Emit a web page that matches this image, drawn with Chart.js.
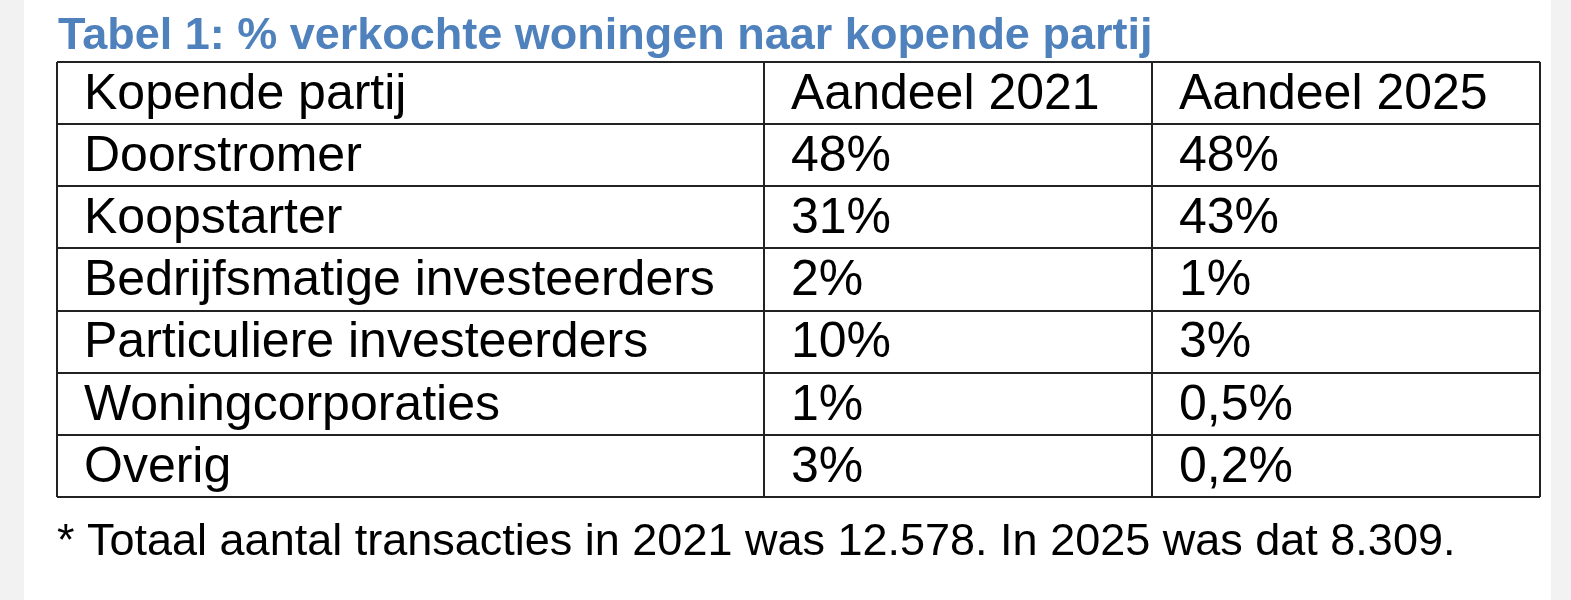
<!DOCTYPE html>
<html><head><meta charset="utf-8">
<script src="https://cdn.jsdelivr.net/npm/chart.js@4"></script>
<style>html,body{margin:0;padding:0;background:#f2f2f2;}
#wrap{position:absolute;left:0;top:0;width:1571px;height:600px;}
</style></head><body>
<div id="wrap"><canvas id="c" width="1571" height="600"></canvas></div>
<script>
const title = "Tabel 1: % verkochte woningen naar kopende partij";
const headers = ["Kopende partij", "Aandeel 2021", "Aandeel 2025"];
const categories = ["Doorstromer","Koopstarter","Bedrijfsmatige investeerders","Particuliere investeerders","Woningcorporaties","Overig"];
const share2021 = ["48%","31%","2%","10%","1%","3%"];
const share2025 = ["48%","43%","1%","3%","0,5%","0,2%"];
const footnote = "* Totaal aantal transacties in 2021 was 12.578. In 2025 was dat 8.309.";
const colEdges = [0, 707, 1095, 1483];

const tablePlugin = {
  id:'table',
  beforeDraw(chart){
    const ctx = chart.ctx, xs = chart.scales.x, ys = chart.scales.y;
    ctx.save();
    ctx.fillStyle='#f2f2f2'; ctx.fillRect(0,0,chart.width,chart.height);
    ctx.fillStyle='#ffffff'; ctx.fillRect(24,0,1527,chart.height);
    ctx.fillStyle='#4f81bd'; ctx.font='bold 45px "Liberation Sans", Arial';
    ctx.textBaseline='alphabetic';
    ctx.fillText(title, 58, 49);
    const rows=[headers, ...categories.map((c,i)=>[c,share2021[i],share2025[i]])];
    ctx.fillStyle='#000'; ctx.font='50px "Liberation Sans", Arial'; ctx.textBaseline='middle';
    rows.forEach((r,i)=>{
      const y=(ys.getPixelForValue(i)+ys.getPixelForValue(i+1))/2+2;
      r.forEach((t,j)=>ctx.fillText(t, xs.getPixelForValue(colEdges[j])+27, y));
    });
    ctx.strokeStyle='#222'; ctx.lineWidth=2;
    for(let i=0;i<=rows.length;i++){const y=Math.round(ys.getPixelForValue(i));
      ctx.beginPath();ctx.moveTo(xs.getPixelForValue(0),y);ctx.lineTo(xs.getPixelForValue(1483),y);ctx.stroke();}
    colEdges.forEach(v=>{const x=Math.round(xs.getPixelForValue(v));
      ctx.beginPath();ctx.moveTo(x,ys.getPixelForValue(0));ctx.lineTo(x,ys.getPixelForValue(rows.length));ctx.stroke();});
    ctx.font='45px "Liberation Sans", Arial'; ctx.textBaseline='alphabetic';
    ctx.fillText(footnote, 57, 555);
    ctx.restore();
  }
};
new Chart(document.getElementById('c'),{
  type:'scatter',
  data:{datasets:[{data:[]}]},
  options:{responsive:false,animation:false,
    layout:{padding:{left:57,right:31,top:62,bottom:103}},
    plugins:{legend:{display:false},tooltip:{enabled:false}},
    scales:{x:{type:'linear',min:0,max:1483,display:false},
            y:{type:'linear',min:0,max:7,reverse:true,display:false}}},
  plugins:[tablePlugin]
});
</script></body></html>
